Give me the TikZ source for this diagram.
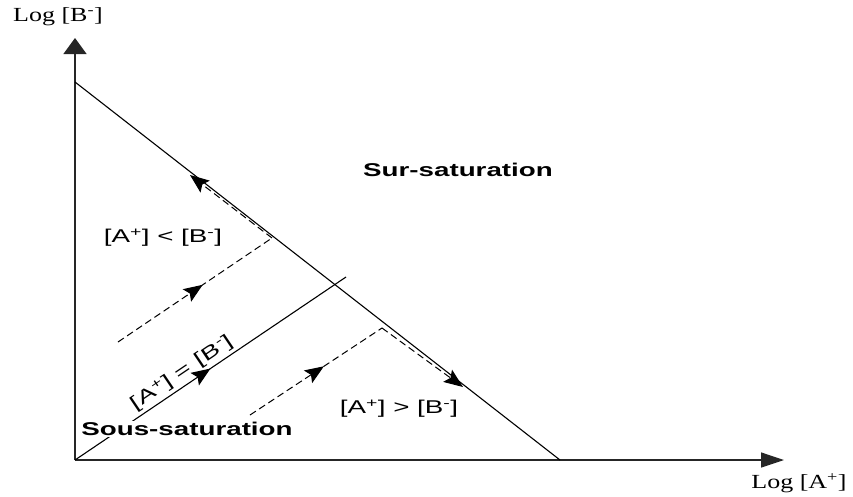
\documentclass[tikz,border=0pt]{standalone}
\usepackage{fontspec}
\setmainfont{Liberation Serif}[FakeStretch=1.3]
\newfontfamily\lblfont{Liberation Sans}[FakeStretch=1.5]
\usetikzlibrary{arrows.meta,decorations.markings}
\tikzset{
  tip/.style={-{Stealth[length=19pt,width=15pt,inset=3.5pt]}},
  midarrow/.style={postaction={decorate},
    decoration={markings,mark=at position #1 with {\arrow{Stealth[length=19pt,width=15pt,inset=3.5pt]}}}},
}

\begin{document}
\begin{tikzpicture}[x=1pt,y=-1pt,line width=1.1pt,
    axis/.style={line width=1.3pt,draw=black!85},
    axislabel/.style={font=\fontsize{20}{24}\selectfont},
    zone/.style={font=\lblfont\bfseries\fontsize{18.5}{22}\selectfont},
    cond/.style={font=\lblfont\fontsize{18.5}{22}\selectfont},
    flow/.style={dash pattern=on 7pt off 4pt,line width=1pt}]
  \useasboundingbox (0,0) rectangle (853,496);
  % axes
  \coordinate (O) at (75,460);
  \coordinate (ytip) at (75,38);
  \coordinate (xtip) at (784,460);
  \draw[axis,-{Triangle[width=23pt,length=16pt]}] (O) -- (ytip);
  \draw[axis,-{Triangle[width=15pt,length=23pt]}] (O) -- (xtip);
  \node[axislabel] (ylab) at (58,17) {Log [B\textsuperscript{-}]};
  \node[axislabel] (xlab) at (799,483) {Log [A\textsuperscript{+}]};
  % solubility line and equal line
  \coordinate (stop) at (75,82);
  \coordinate (sbot) at (560,460);
  \draw (stop) -- (sbot);
  \coordinate (eqend) at (346,277);
  \draw[midarrow=0.5] (O) -- node[cond,pos=0.42,sloped,above,inner sep=3pt] (equal)
    {[A\textsuperscript{+}] = [B\textsuperscript{-}]} (eqend);
  % paths towards the line
  \coordinate (ustart) at (118,342);
  \coordinate (ucorner) at (272,238);
  \coordinate (uend) at (190,175);
  \draw[flow,midarrow=0.55] (ustart) -- (ucorner);
  \draw[flow,tip] (ucorner) -- (uend);
  \coordinate (lstart) at (250,415);
  \coordinate (lcorner) at (382,328);
  \coordinate (lend) at (463,387);
  \draw[flow,midarrow=0.56] (lstart) -- (lcorner);
  \draw[flow,tip] (lcorner) -- (lend);
  % labels
  \node[zone] (sur) at (458,170) {Sur-saturation};
  \node[zone,fill=white,inner sep=1pt] (sous) at (187,429) {Sous-saturation};
  \node[cond] (less) at (163,238) {[A\textsuperscript{+}] < [B\textsuperscript{-}]};
  \node[cond] (more) at (399,409) {[A\textsuperscript{+}] > [B\textsuperscript{-}]};
\end{tikzpicture}
\end{document}
